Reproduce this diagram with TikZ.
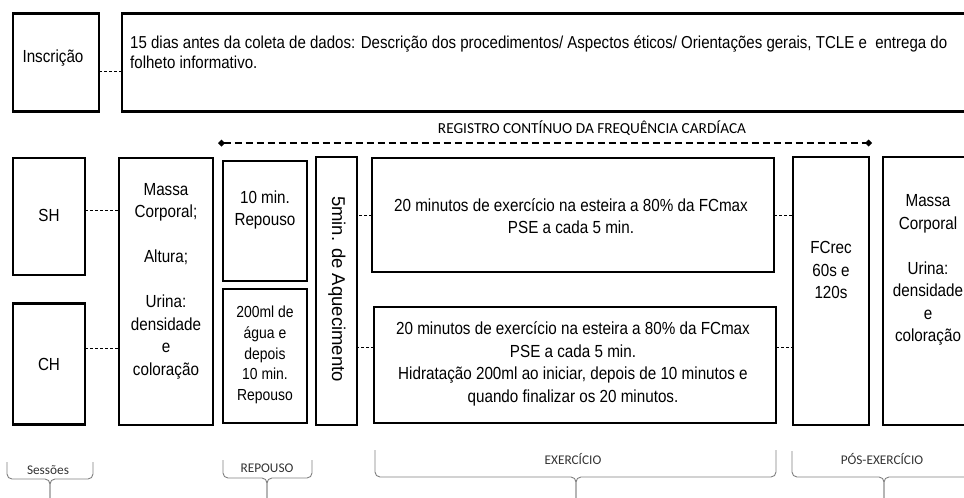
\documentclass[tikz,border=0pt]{standalone}
\usepackage{fontspec}
\setmainfont[FakeStretch=0.87]{Liberation Sans}
\newfontfamily\largo{Liberation Sans}
\newfontfamily\calibri{Carlito}
\usepackage{tikz}
\usetikzlibrary{positioning,arrows.meta}

\tikzset{
  caixa/.style={draw, line width=2.6pt, inner sep=0pt, outer sep=0pt},
  ligacao/.style={densely dashed, line width=0.6pt},
  txt/.style={align=center, inner sep=0pt, font=\fontsize{17.5}{22.5}\selectfont},
  txtp/.style={align=center, inner sep=0pt, font=\fontsize{16}{20.7}\selectfont},
  chave/.style={draw=black!50, line width=0.9pt, rounded corners=5pt},
  rotulo/.style={inner sep=0pt, text=black!80, font=\calibri\fontsize{13.3}{15}\selectfont}
}

\begin{document}
\begin{tikzpicture}[x=1pt,y=-1pt]
\useasboundingbox (0,0) rectangle (964,498);
\clip (0,0) rectangle (964,498);
% inscricao
\node[caixa, minimum width=86pt, minimum height=98pt] (insc) at (56,62.5) {};
\node[caixa, minimum width=880pt, minimum height=98pt] (desc) at (562,62.5) {};
\node[txt] (tInsc) at (53,58) {Inscrição};
\node[txt, anchor=west, align=left, font=\fontsize{17.3}{20}\selectfont] (tDesc) at (130,52) {15 dias antes da coleta de dados: Descrição dos procedimentos/ Aspectos éticos/ Orientações gerais, TCLE e\ \ entrega do\\folheto informativo.};
\draw[ligacao] (insc.-11) -- (insc.-11 -| desc.west);

% registro da FC
\coordinate (regIni) at (218,143);
\coordinate (regFim) at (872,143);
\draw[line width=2pt, dash pattern=on 7pt off 4pt, {Diamond[length=7pt,width=7pt]}-{Diamond[length=7pt,width=7pt]}] (regIni) -- (regFim);
\node[inner sep=0pt, font=\calibri\fontsize{15.3}{17}\selectfont] (registro) at (592,128) {REGISTRO CONTÍNUO DA FREQUÊNCIA CARDÍACA};

% sessoes
\node[caixa, minimum width=72pt, minimum height=117pt] (sh) at (49,216.5) {};
\node[caixa, minimum width=72pt, minimum height=121pt] (ch) at (49,364) {};
\node[txt] (tSH) at (49,215) {SH};
\node[txt] (tCH) at (49,364) {CH};

% medidas pre
\node[caixa, minimum width=94pt, minimum height=267pt] (massa) at (166,291.5) {};
\node[txt] (tMassa) at (166,281) {Massa\\Corporal;\\[22.5pt]Altura;\\[22.5pt]Urina:\\densidade\\e\\coloração};
\draw[ligacao] (sh.10) -- (sh.10 -| massa.west);
\draw[ligacao] (ch.24) -- (ch.24 -| massa.west);

% repouso
\node[caixa, minimum width=84pt, minimum height=120pt] (rep) at (265,221) {};
\node[caixa, minimum width=84pt, minimum height=134pt] (agua) at (265,356) {};
\node[txt] (tRep) at (265,210) {10 min.\\Repouso};
\node[txtp] (tAgua) at (265,355) {200ml de\\água e\\depois\\10 min.\\Repouso};

% aquecimento
\node[caixa, minimum width=41pt, minimum height=268pt] (aquec) at (336.5,291) {};
\node[inner sep=0pt, rotate=-90, font=\largo\fontsize{18.5}{20}\selectfont] (tAquec) at (337,289) {5min. de Aquecimento};

% exercicio
\node[caixa, minimum width=402pt, minimum height=114pt] (extop) at (573,215) {};
\node[caixa, minimum width=402pt, minimum height=116pt] (exbot) at (575,365) {};
\node[txt] (tExtop) at (571,216) {20 minutos de exercício na esteira a 80\% da FCmax\\PSE a cada 5 min.};
\node[txt] (tExbot) at (573,364) {20 minutos de exercício na esteira a 80\% da FCmax\\PSE a cada 5 min.\\Hidratação 200ml ao iniciar, depois de 10 minutos e\\quando finalizar os 20 minutos.};
\draw[ligacao] (extop.west) -- (extop.west -| aquec.east);
\draw[ligacao] (exbot.175) -- (exbot.175 -| aquec.east);

% pos-exercicio
\node[caixa, minimum width=76pt, minimum height=268pt] (fcrec) at (831,291) {};
\node[caixa, minimum width=107pt, minimum height=268pt] (massa2) at (936.5,291) {};
\node[txt] (tFcrec) at (831,270) {FCrec\\60s e\\120s};
\node[txt] (tMassa2) at (928,270) {Massa\\Corporal\\[22.5pt]Urina:\\densidade\\e\\coloração};
\draw[ligacao] (extop.east) -- (extop.east -| fcrec.west);
\draw[ligacao] (exbot.5) -- (exbot.5 -| fcrec.west);

% chaves
\draw[chave] (7,462) -- (7,479) -- (50,479) -- (50,505);
\draw[chave] (93,462) -- (93,479) -- (50,479) -- (50,505);
\node[rotulo] (lSessoes) at (48,470) {Sessões};
\draw[chave] (223,460) -- (223,478) -- (267,478) -- (267,505);
\draw[chave] (312,460) -- (312,478) -- (267,478) -- (267,505);
\node[rotulo] (lRepouso) at (267,468) {REPOUSO};
\draw[chave] (375,450) -- (375,477) -- (576,477) -- (576,505);
\draw[chave] (776,450) -- (776,477) -- (576,477) -- (576,505);
\node[rotulo] (lExercicio) at (573,459) {EXERCÍCIO};
\draw[chave] (792,451) -- (792,477) -- (884,477) -- (884,505);
\draw[chave] (976,451) -- (976,477) -- (884,477) -- (884,505);
\node[rotulo] (lPos) at (882,459) {PÓS-EXERCÍCIO};
\end{tikzpicture}
\end{document}
